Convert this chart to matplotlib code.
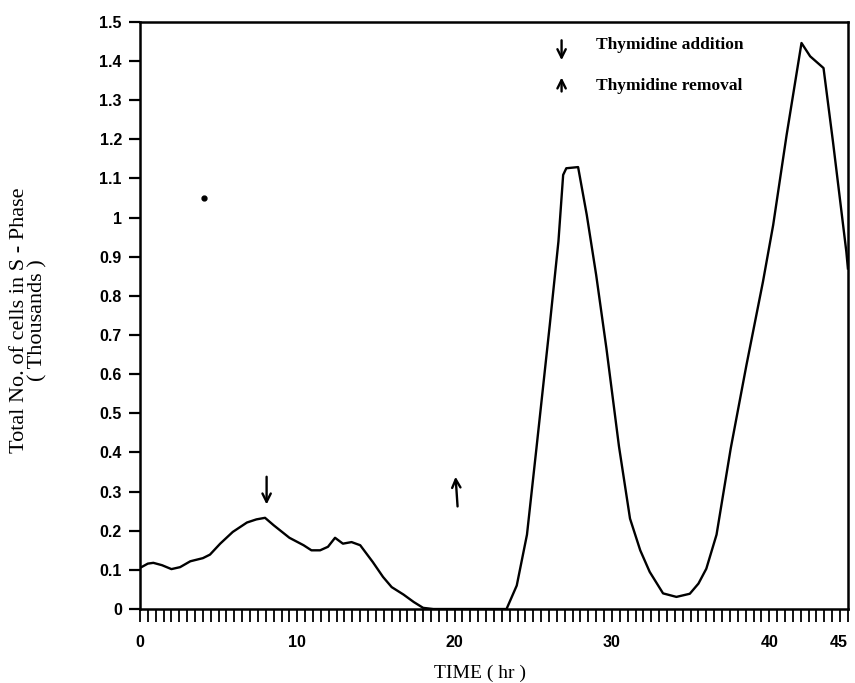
import matplotlib
matplotlib.use("Agg")
import matplotlib.pyplot as plt
import numpy as np

# Data
time_hr = [0.0, 0.5, 0.85, 1.4, 2.0, 2.55, 3.2, 4.0, 4.45, 5.1, 5.9, 6.8, 7.4, 7.95,
           8.5, 9.5, 10.4, 10.9, 11.45, 11.95, 12.4, 12.9, 13.45, 14.0, 14.8, 15.45,
           16.0, 16.75, 17.4, 18.0, 18.65, 20.0, 22.0, 23.3, 23.95, 24.6, 25.2, 26.05,
           26.6, 26.9, 27.1, 27.85, 28.4, 29.0, 29.65, 30.45, 31.15, 31.8, 32.4, 33.25,
           34.1, 34.95, 35.5, 36.0, 36.65, 37.55, 38.55, 39.6, 40.25, 41.1, 42.05,
           42.6, 43.45, 44.05, 44.9, 45.0]
cells_s_phase = [0.105, 0.116, 0.118, 0.112, 0.102, 0.107, 0.122, 0.130, 0.139, 0.167,
                 0.197, 0.221, 0.229, 0.233, 0.214, 0.182, 0.163, 0.150, 0.150, 0.159,
                 0.182, 0.167, 0.171, 0.163, 0.120, 0.082, 0.056, 0.037, 0.018, 0.003,
                 0.0, 0.0, 0.0, 0.0, 0.06, 0.19, 0.41, 0.726, 0.939, 1.109, 1.126, 1.129,
                 1.007, 0.853, 0.666, 0.415, 0.231, 0.150, 0.095, 0.040, 0.031, 0.039,
                 0.065, 0.103, 0.19, 0.41, 0.623, 0.836, 0.981, 1.21, 1.446, 1.412,
                 1.382, 1.194, 0.913, 0.87]

y_ticks = [0, 0.1, 0.2, 0.3, 0.4, 0.5, 0.6, 0.7, 0.8, 0.9, 1.0, 1.1, 1.2, 1.3, 1.4, 1.5]
y_ticklabels = ["0", "0.1", "0.2", "0.3", "0.4", "0.5", "0.6", "0.7", "0.8", "0.9",
                "1", "1.1", "1.2", "1.3", "1.4", "1.5"]
x_ticks = [0, 10, 20, 30, 40, 45]
x_ticklabels = ["0", "10", "20", "30", "40", "45"]

fig = plt.figure(figsize=(8.55, 6.83), dpi=100)
ax = fig.add_axes([0.1637, 0.1083, 0.828, 0.8597])

ax.plot(time_hr, cells_s_phase, color="black", lw=1.7)
ax.plot([4.1], [1.05], marker="o", ms=3.5, color="black")  # scan speck

ax.set_xlim(0, 45)
ax.set_ylim(0, 1.5)
ax.set_yticks(y_ticks)
ax.set_yticklabels(y_ticklabels)
ax.set_xticks(x_ticks)
ax.set_xticklabels(x_ticklabels)
ax.set_xticks(np.arange(0, 45.01, 0.5), minor=True)

for s in ax.spines.values():
    s.set_linewidth(1.8)

ax.tick_params(axis="y", direction="out", length=8, width=1.6, pad=5,
               labelsize=11.5)
ax.tick_params(axis="x", which="both", direction="out", length=9, width=1.3,
               pad=10, labelsize=11.5)
for lab in ax.get_xticklabels() + ax.get_yticklabels():
    lab.set_fontfamily("Liberation Sans")
    lab.set_fontweight("bold")
last = ax.get_xticklabels()[-1]
last.set_horizontalalignment("right")
last.set_x(45.6)

fig.text(480 / 855, 1 - 673 / 683, "TIME ( hr )", fontfamily="Liberation Serif",
         fontsize=14, ha="center", va="center")
fig.text(0.034, 1 - 320 / 683, "Total No. of cells in S - Phase\n( Thousands )",
         rotation=90, ha="center", va="center", fontfamily="Liberation Serif",
         fontsize=16, linespacing=0.95)

arrow_kw = dict(arrowstyle="->", lw=1.7, color="black", mutation_scale=15)
ax.annotate("", xy=(8.05, 0.26), xytext=(8.05, 0.345), arrowprops=arrow_kw)
ax.annotate("", xy=(20.05, 0.345), xytext=(20.2, 0.255), arrowprops=arrow_kw)

ax.annotate("", xy=(26.8, 1.395), xytext=(26.8, 1.46), arrowprops=arrow_kw)
ax.annotate("", xy=(26.8, 1.365), xytext=(26.8, 1.315), arrowprops=arrow_kw)
ax.text(29.0, 1.442, "Thymidine addition", fontfamily="Liberation Serif",
        fontweight="bold", fontsize=12.5, va="center", ha="left")
ax.text(29.0, 1.335, "Thymidine removal", fontfamily="Liberation Serif",
        fontweight="bold", fontsize=12.5, va="center", ha="left")

fig.savefig("out.png", dpi=100, facecolor="white")
